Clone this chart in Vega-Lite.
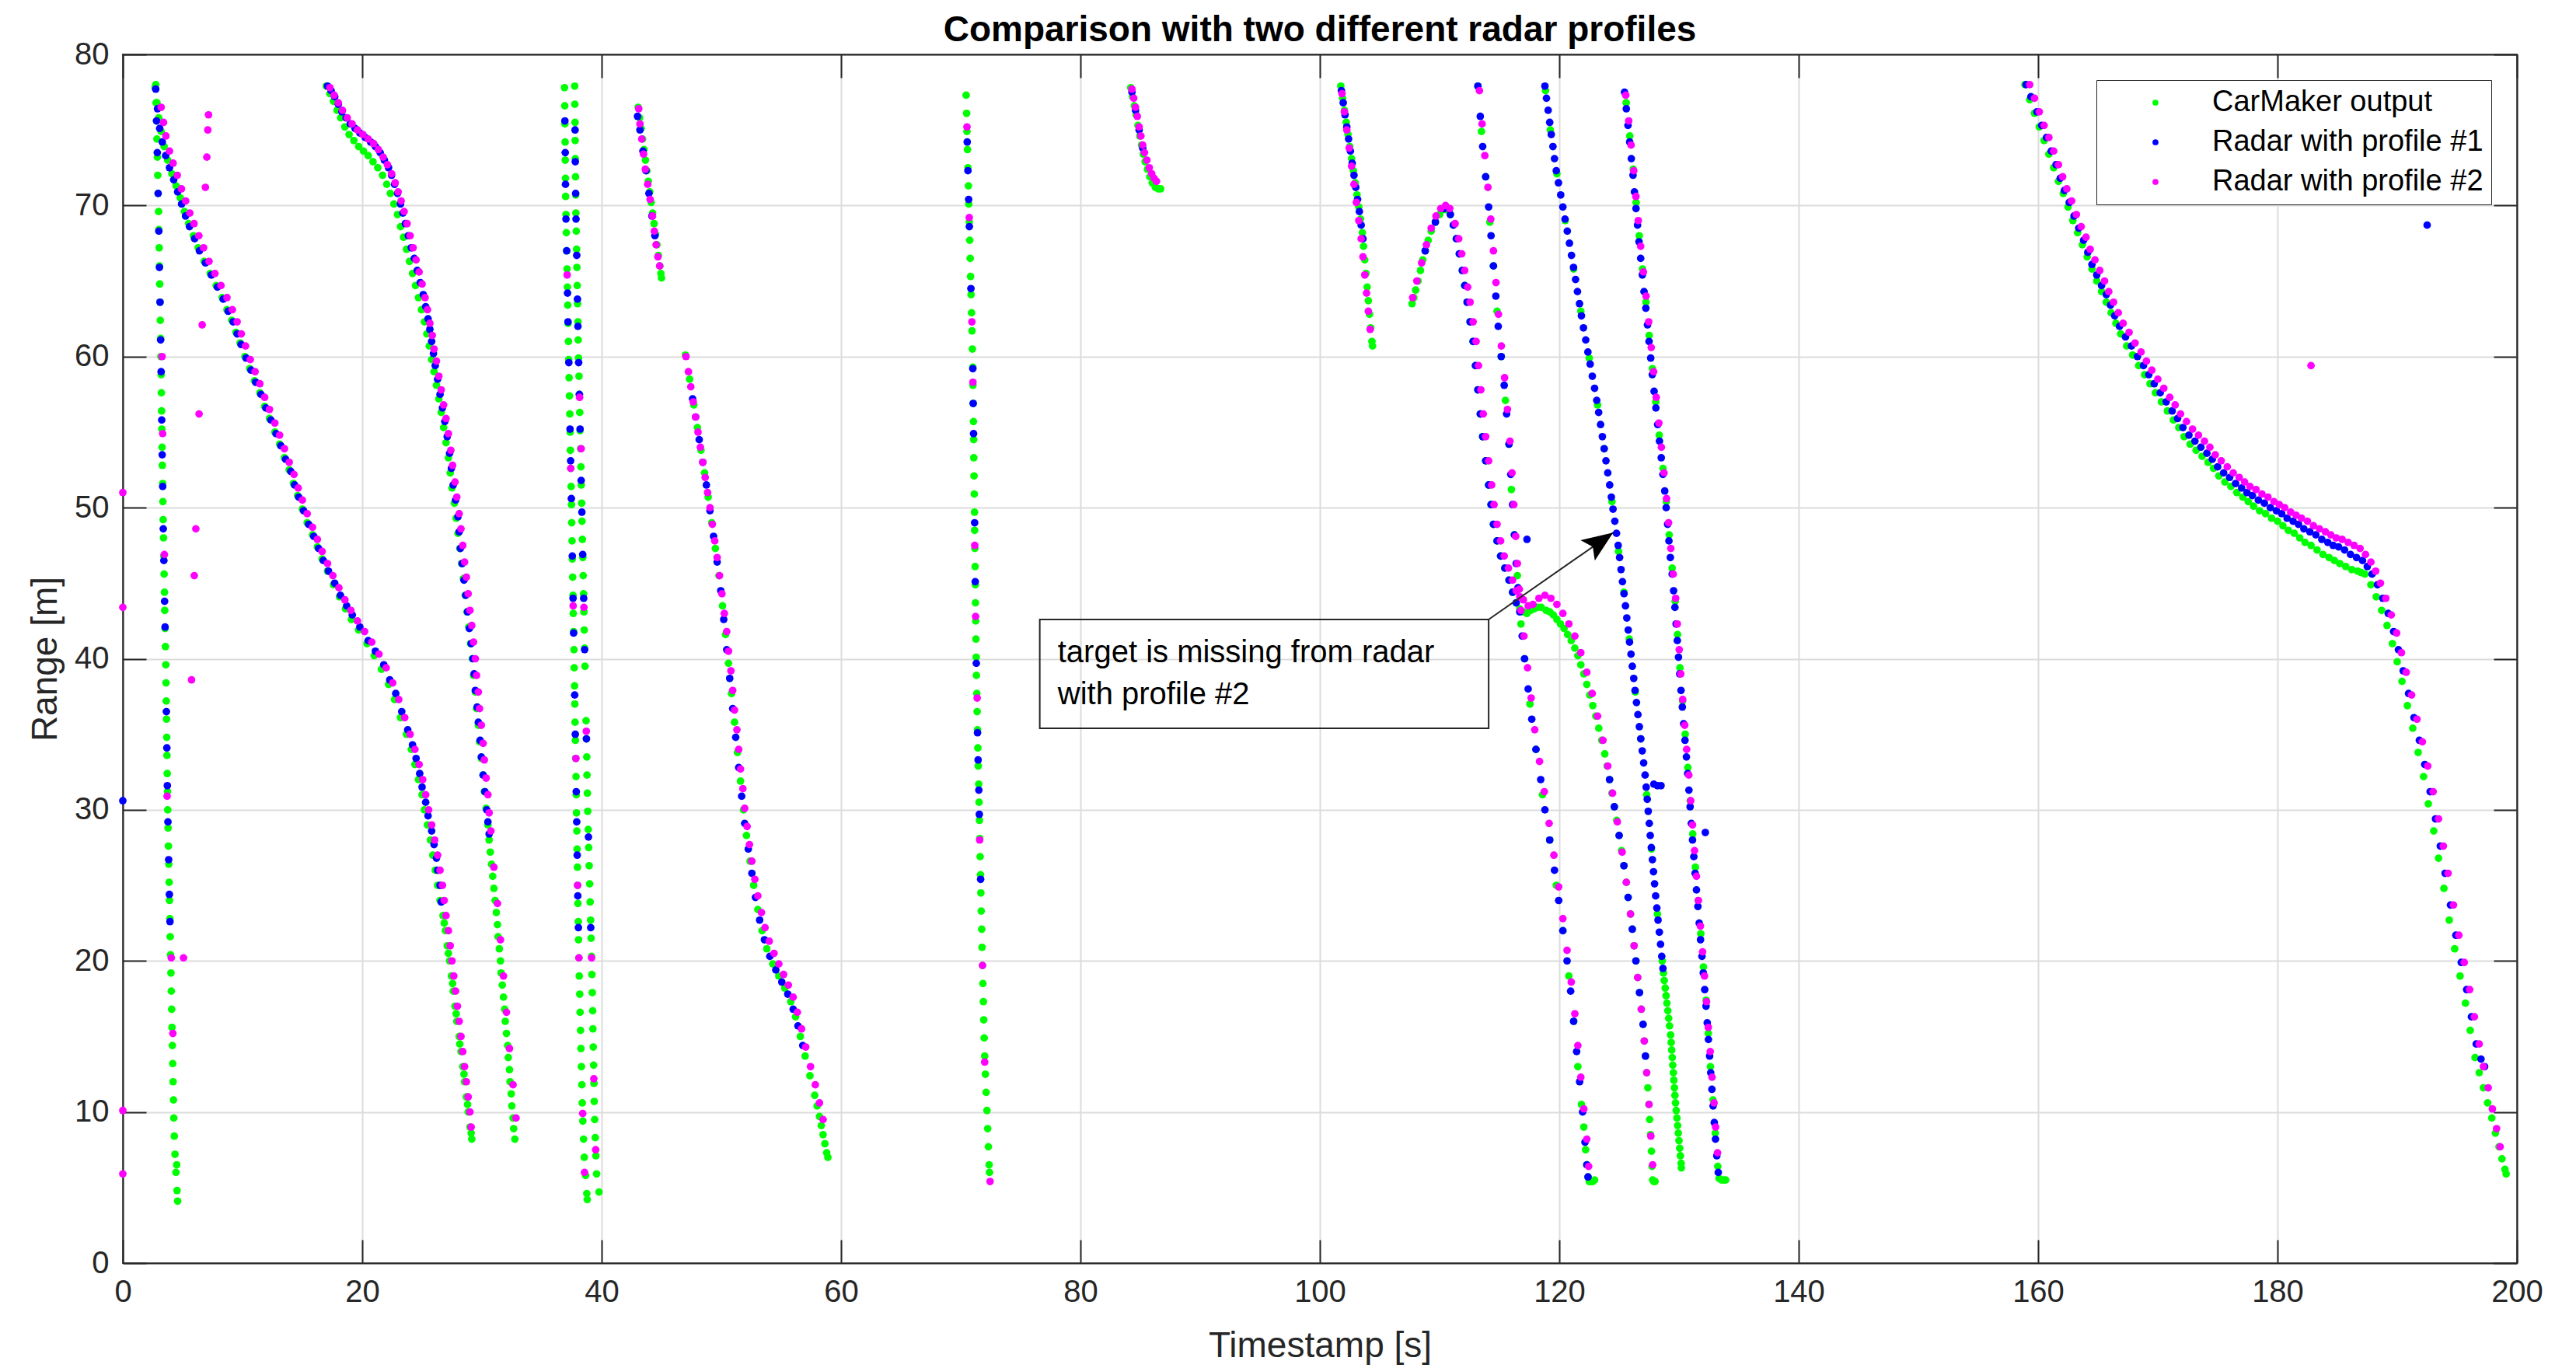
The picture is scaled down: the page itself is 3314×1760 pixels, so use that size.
{
"$schema":"https://vega.github.io/schema/vega-lite/v6.json",
"width":3080,"height":1555,
"autosize":{"type":"none"},
"padding":{"left":158,"top":70,"right":76,"bottom":135},
"background":"white",
"title":{"text":"Comparison with two different radar profiles","fontSize":46,"font":"Liberation Sans","fontWeight":"bold","color":"black","anchor":"middle","offset":-13},
"config":{
"view":{"stroke":"#262626","strokeWidth":2},
"axis":{"labelFont":"Liberation Sans","titleFont":"Liberation Sans","labelFontSize":40,"titleFontSize":46,"titleFontWeight":"normal","labelColor":"#262626","titleColor":"#262626","domainColor":"#262626","domainWidth":2,"tickColor":"#262626","tickWidth":2,"tickSize":-30,"gridColor":"#dcdcdc","gridWidth":2,"labelFlush":false,"labelOverlap":false},
"legend":{"labelFont":"Liberation Sans","labelFontSize":38,"labelColor":"black","symbolType":"circle","symbolSize":60,"symbolStrokeWidth":0,"strokeColor":"#262626","fillColor":"white","padding":10,"rowPadding":13,"symbolOffset":47,"labelOffset":54,"labelLimit":0}
},
"resolve":{"axis":{"x":"independent","y":"independent"}},
"datasets":{
"carmaker":[
{"t":2.75,"r":78},{"t":2.78,"r":76.8},{"t":2.82,"r":75.6},{"t":2.85,"r":74.4},{"t":2.89,"r":73.2},{"t":2.92,"r":72},{"t":2.95,"r":70.8},{"t":2.99,"r":69.6},{"t":3.01,"r":68.4},{"t":3.04,"r":67.2},{"t":3.06,"r":66},{"t":3.08,"r":64.8},{"t":3.11,"r":63.6},{"t":3.13,"r":62.4},{"t":3.16,"r":61.2},{"t":3.18,"r":60},{"t":3.2,"r":58.8},{"t":3.22,"r":57.6},{"t":3.24,"r":56.4},{"t":3.26,"r":55.2},{"t":3.28,"r":54},{"t":3.3,"r":52.8},{"t":3.33,"r":51.6},{"t":3.35,"r":50.4},{"t":3.37,"r":49.2},{"t":3.4,"r":48},{"t":3.42,"r":46.8},{"t":3.45,"r":45.6},{"t":3.48,"r":44.4},{"t":3.5,"r":43.2},{"t":3.53,"r":42},{"t":3.56,"r":40.8},{"t":3.59,"r":39.6},{"t":3.61,"r":38.4},{"t":3.63,"r":37.2},{"t":3.65,"r":36},{"t":3.67,"r":34.8},{"t":3.69,"r":33.6},{"t":3.71,"r":32.4},{"t":3.73,"r":31.2},{"t":3.75,"r":30},{"t":3.78,"r":28.8},{"t":3.81,"r":27.6},{"t":3.84,"r":26.4},{"t":3.87,"r":25.2},{"t":3.9,"r":24},{"t":3.93,"r":22.8},{"t":3.96,"r":21.6},{"t":3.99,"r":20.4},{"t":4.02,"r":19.2},{"t":4.05,"r":18},{"t":4.08,"r":16.8},{"t":4.11,"r":15.6},{"t":4.14,"r":14.4},{"t":4.17,"r":13.2},{"t":4.2,"r":12},{"t":4.23,"r":10.8},{"t":4.26,"r":9.6},{"t":4.3,"r":8.4},{"t":4.36,"r":7.2},{"t":4.44,"r":6},{"t":4.5,"r":6.5},{"t":4.53,"r":4.8},{"t":4.58,"r":4.1},
{"t":2.7,"r":77.8},{"t":2.85,"r":76.8},{"t":3.0,"r":75.8},{"t":3.2,"r":74.9},{"t":3.45,"r":73.9},{"t":3.75,"r":73.0},{"t":4.1,"r":72.1},{"t":4.45,"r":71.3},{"t":4.8,"r":70.5},{"t":5.15,"r":69.6},{"t":5.5,"r":68.8},{"t":5.9,"r":68.0},{"t":6.3,"r":67.2},{"t":6.8,"r":66.3},{"t":7.3,"r":65.5},{"t":7.8,"r":64.7},{"t":8.3,"r":63.9},{"t":8.7,"r":63.1},{"t":9.1,"r":62.4},{"t":9.45,"r":61.6},{"t":9.8,"r":60.9},{"t":10.2,"r":60.0},{"t":10.6,"r":59.2},{"t":11.0,"r":58.4},{"t":11.45,"r":57.6},{"t":11.85,"r":56.7},{"t":12.25,"r":55.9},{"t":12.7,"r":55.0},{"t":13.1,"r":54.2},{"t":13.5,"r":53.3},{"t":13.9,"r":52.5},{"t":14.25,"r":51.6},{"t":14.6,"r":50.8},{"t":15.0,"r":49.9},{"t":15.4,"r":49.0},{"t":15.85,"r":48.2},{"t":16.25,"r":47.4},{"t":16.65,"r":46.6},{"t":17.1,"r":45.8},{"t":17.6,"r":44.9},{"t":18.1,"r":44.1},{"t":18.6,"r":43.3},{"t":19.1,"r":42.6},{"t":19.7,"r":41.9},{"t":20.4,"r":41.0},{"t":21.0,"r":40.2},{"t":21.6,"r":39.3},{"t":22.2,"r":38.3},{"t":22.7,"r":37.3},{"t":23.2,"r":36.1},{"t":23.7,"r":35.0},{"t":24.1,"r":34.0},{"t":24.4,"r":33.0},{"t":24.7,"r":32.0},{"t":25.0,"r":31.0},{"t":25.2,"r":30.0},{"t":25.45,"r":29.0},{"t":25.7,"r":28.0},{"t":25.9,"r":27.0},{"t":26.1,"r":26.0},{"t":26.3,"r":25.0},{"t":26.5,"r":24.0},{"t":26.75,"r":23.0},{"t":26.85,"r":22.5},{"t":26.95,"r":22.0},{"t":27.1,"r":21.0},{"t":27.2,"r":20.5},{"t":27.3,"r":20.0},{"t":27.45,"r":19.0},{"t":27.55,"r":18.5},{"t":27.6,"r":18.0},{"t":27.75,"r":17.0},{"t":27.85,"r":16.5},{"t":27.9,"r":16.0},{"t":28.1,"r":15.0},{"t":28.15,"r":14.5},{"t":28.25,"r":14.0},{"t":28.4,"r":13.0},{"t":28.5,"r":12.5},{"t":28.55,"r":12.0},{"t":28.7,"r":11.0},{"t":28.8,"r":10.5},{"t":28.85,"r":10.0},{"t":29.0,"r":9.0},{"t":29.1,"r":8.6},{"t":29.15,"r":8.2},
{"t":17.0,"r":77.9},{"t":17.3,"r":77.4},{"t":17.6,"r":76.9},{"t":17.9,"r":76.3},{"t":18.2,"r":75.8},{"t":18.55,"r":75.2},{"t":18.9,"r":74.7},{"t":19.3,"r":74.3},{"t":19.7,"r":73.9},{"t":20.1,"r":73.6},{"t":20.5,"r":73.3},{"t":20.9,"r":72.9},{"t":21.3,"r":72.5},{"t":21.7,"r":72.0},{"t":22.05,"r":71.4},{"t":22.35,"r":70.8},{"t":22.65,"r":70.1},{"t":22.95,"r":69.4},{"t":23.2,"r":68.6},{"t":23.45,"r":67.9},{"t":23.7,"r":67.1},{"t":23.95,"r":66.3},{"t":24.2,"r":65.5},{"t":24.45,"r":64.7},{"t":24.7,"r":63.9},{"t":24.95,"r":63.1},{"t":25.2,"r":62.3},{"t":25.4,"r":61.5},{"t":25.6,"r":60.7},{"t":25.8,"r":59.8},{"t":26.0,"r":59.0},{"t":26.2,"r":58.1},{"t":26.4,"r":57.2},{"t":26.6,"r":56.3},{"t":26.8,"r":55.3},{"t":27.0,"r":54.3},{"t":27.2,"r":53.3},{"t":27.35,"r":52.3},{"t":27.5,"r":51.3},{"t":27.7,"r":50.3},{"t":27.85,"r":49.3},{"t":28.0,"r":48.3},{"t":28.15,"r":47.3},{"t":28.3,"r":46.3},{"t":28.45,"r":45.3},{"t":28.6,"r":44.2},{"t":28.75,"r":43.1},{"t":28.9,"r":42.1},{"t":29.05,"r":41.0},{"t":29.2,"r":40.0},{"t":29.3,"r":38.9},{"t":29.45,"r":37.8},{"t":29.55,"r":36.7},{"t":29.7,"r":35.6},{"t":29.8,"r":34.5},{"t":29.95,"r":33.4},{"t":30.1,"r":32.3},{"t":30.2,"r":31.2},{"t":30.35,"r":30.1},{"t":30.5,"r":29.0},{"t":30.6,"r":28.0},{"t":30.7,"r":27.2},{"t":30.8,"r":26.4},{"t":30.9,"r":25.6},{"t":31.0,"r":24.8},{"t":31.1,"r":24.0},{"t":31.2,"r":23.2},{"t":31.3,"r":22.4},{"t":31.35,"r":21.6},{"t":31.45,"r":20.8},{"t":31.55,"r":20.0},{"t":31.6,"r":19.2},{"t":31.7,"r":18.4},{"t":31.8,"r":17.6},{"t":31.9,"r":16.8},{"t":31.95,"r":16.0},{"t":32.05,"r":15.2},{"t":32.15,"r":14.4},{"t":32.2,"r":13.6},{"t":32.3,"r":12.8},{"t":32.35,"r":12.0},{"t":32.45,"r":11.2},{"t":32.5,"r":10.4},{"t":32.6,"r":9.6},{"t":32.65,"r":8.9},{"t":32.75,"r":8.2},
{"t":36.9,"r":77.8},{"t":36.92,"r":76.6},{"t":36.93,"r":75.4},{"t":36.95,"r":74.2},{"t":36.96,"r":73.0},{"t":36.98,"r":71.8},{"t":36.99,"r":70.6},{"t":37.02,"r":69.4},{"t":37.05,"r":68.2},{"t":37.08,"r":67.0},{"t":37.11,"r":65.8},{"t":37.14,"r":64.6},{"t":37.17,"r":63.4},{"t":37.2,"r":62.2},{"t":37.23,"r":61.0},{"t":37.25,"r":59.8},{"t":37.28,"r":58.6},{"t":37.31,"r":57.4},{"t":37.34,"r":56.2},{"t":37.37,"r":55.0},{"t":37.39,"r":53.8},{"t":37.42,"r":52.6},{"t":37.45,"r":51.4},{"t":37.48,"r":50.2},{"t":37.5,"r":49.0},{"t":37.53,"r":47.8},{"t":37.55,"r":46.6},{"t":37.58,"r":45.4},{"t":37.61,"r":44.2},{"t":37.63,"r":43.0},{"t":37.66,"r":41.8},{"t":37.69,"r":40.6},{"t":37.71,"r":39.4},{"t":37.74,"r":38.2},{"t":37.76,"r":37.0},{"t":37.78,"r":35.8},{"t":37.81,"r":34.6},{"t":37.83,"r":33.4},{"t":37.86,"r":32.2},{"t":37.88,"r":31.0},{"t":37.9,"r":29.8},{"t":37.93,"r":28.6},{"t":37.95,"r":27.4},{"t":37.98,"r":26.2},{"t":38.0,"r":25.0},{"t":38.02,"r":23.8},{"t":38.05,"r":22.6},{"t":38.07,"r":21.4},{"t":38.1,"r":20.2},{"t":38.13,"r":19.0},{"t":38.17,"r":17.8},{"t":38.2,"r":16.6},{"t":38.24,"r":15.4},{"t":38.27,"r":14.2},{"t":38.31,"r":13.0},{"t":38.35,"r":11.8},{"t":38.38,"r":10.6},{"t":38.43,"r":9.4},{"t":38.49,"r":8.2},{"t":38.55,"r":7.0},{"t":38.66,"r":5.8},{"t":38.76,"r":4.6},{"t":38.8,"r":4.2},
{"t":37.75,"r":77.9},{"t":37.76,"r":76.7},{"t":37.78,"r":75.5},{"t":37.79,"r":74.3},{"t":37.8,"r":73.1},{"t":37.82,"r":71.9},{"t":37.83,"r":70.7},{"t":37.85,"r":69.5},{"t":37.88,"r":68.3},{"t":37.91,"r":67.1},{"t":37.93,"r":65.9},{"t":37.96,"r":64.7},{"t":37.99,"r":63.5},{"t":38.02,"r":62.3},{"t":38.04,"r":61.1},{"t":38.07,"r":59.9},{"t":38.11,"r":58.7},{"t":38.14,"r":57.5},{"t":38.17,"r":56.3},{"t":38.2,"r":55.1},{"t":38.24,"r":53.9},{"t":38.27,"r":52.7},{"t":38.3,"r":51.5},{"t":38.33,"r":50.3},{"t":38.36,"r":49.1},{"t":38.39,"r":47.9},{"t":38.43,"r":46.7},{"t":38.46,"r":45.5},{"t":38.49,"r":44.3},{"t":38.52,"r":43.1},{"t":38.55,"r":41.9},{"t":38.58,"r":40.7},{"t":38.61,"r":39.5},{"t":38.7,"r":35.9},{"t":38.73,"r":34.7},{"t":38.76,"r":33.5},{"t":38.78,"r":32.3},{"t":38.81,"r":31.1},{"t":38.84,"r":29.9},{"t":38.88,"r":28.7},{"t":38.92,"r":27.5},{"t":38.96,"r":26.3},{"t":39.0,"r":25.1},{"t":39.04,"r":23.9},{"t":39.08,"r":22.7},{"t":39.12,"r":21.5},{"t":39.16,"r":20.3},{"t":39.19,"r":19.1},{"t":39.22,"r":17.9},{"t":39.25,"r":16.7},{"t":39.27,"r":15.5},{"t":39.3,"r":14.3},{"t":39.33,"r":13.1},{"t":39.36,"r":11.9},{"t":39.38,"r":10.7},{"t":39.42,"r":9.5},{"t":39.47,"r":8.3},{"t":39.52,"r":7.1},{"t":39.58,"r":5.9},{"t":39.78,"r":4.7},
{"t":43.05,"r":76.5},{"t":43.17,"r":75.8},{"t":43.3,"r":75.1},{"t":43.42,"r":74.4},{"t":43.54,"r":73.7},{"t":43.66,"r":73.0},{"t":43.78,"r":72.3},{"t":43.9,"r":71.6},{"t":44.02,"r":70.9},{"t":44.14,"r":70.2},{"t":44.26,"r":69.5},{"t":44.38,"r":68.8},{"t":44.5,"r":68.1},{"t":44.62,"r":67.4},{"t":44.74,"r":66.7},{"t":44.86,"r":66.0},{"t":44.95,"r":65.5},{"t":45.0,"r":65.2},
{"t":47.0,"r":60.1},{"t":47.35,"r":58.5},{"t":47.7,"r":56.8},{"t":48.0,"r":55.3},{"t":48.3,"r":53.8},{"t":48.6,"r":52.3},{"t":48.9,"r":50.7},{"t":49.2,"r":49.0},{"t":49.5,"r":47.3},{"t":49.8,"r":45.5},{"t":50.1,"r":43.5},{"t":50.35,"r":41.6},{"t":50.6,"r":39.7},{"t":50.85,"r":37.7},{"t":51.1,"r":35.8},{"t":51.35,"r":33.8},{"t":51.6,"r":31.9},{"t":51.85,"r":30.0},{"t":52.1,"r":28.3},{"t":52.4,"r":26.6},{"t":52.7,"r":25.0},{"t":53.05,"r":23.4},{"t":53.4,"r":22.0},{"t":53.8,"r":20.8},{"t":54.3,"r":19.8},{"t":54.8,"r":19.0},{"t":55.3,"r":18.2},{"t":55.8,"r":17.3},{"t":56.2,"r":16.3},{"t":56.6,"r":15.0},{"t":57.0,"r":13.7},{"t":57.4,"r":12.4},{"t":57.8,"r":11.1},{"t":58.0,"r":10.4},{"t":58.2,"r":9.7},{"t":58.35,"r":9.1},{"t":58.5,"r":8.5},{"t":58.65,"r":7.9},{"t":58.8,"r":7.3},{"t":58.9,"r":7.0},
{"t":70.45,"r":77.3},{"t":70.49,"r":76.1},{"t":70.52,"r":74.9},{"t":70.56,"r":73.7},{"t":70.6,"r":72.5},{"t":70.64,"r":71.3},{"t":70.67,"r":70.1},{"t":70.71,"r":68.9},{"t":70.75,"r":67.7},{"t":70.79,"r":66.5},{"t":70.82,"r":65.3},{"t":70.86,"r":64.1},{"t":70.9,"r":62.9},{"t":70.94,"r":61.7},{"t":70.97,"r":60.5},{"t":71.01,"r":59.3},{"t":71.02,"r":58.1},{"t":71.04,"r":56.9},{"t":71.06,"r":55.7},{"t":71.08,"r":54.5},{"t":71.09,"r":53.3},{"t":71.11,"r":52.1},{"t":71.13,"r":50.9},{"t":71.15,"r":49.7},{"t":71.16,"r":48.5},{"t":71.18,"r":47.3},{"t":71.2,"r":46.1},{"t":71.22,"r":44.9},{"t":71.23,"r":43.7},{"t":71.25,"r":42.5},{"t":71.27,"r":41.3},{"t":71.29,"r":40.1},{"t":71.31,"r":38.9},{"t":71.34,"r":37.7},{"t":71.37,"r":36.5},{"t":71.4,"r":35.3},{"t":71.43,"r":34.1},{"t":71.46,"r":32.9},{"t":71.5,"r":31.7},{"t":71.53,"r":30.5},{"t":71.56,"r":29.3},{"t":71.59,"r":28.1},{"t":71.62,"r":26.9},{"t":71.65,"r":25.7},{"t":71.68,"r":24.5},{"t":71.71,"r":23.3},{"t":71.75,"r":22.1},{"t":71.78,"r":20.9},{"t":71.82,"r":19.7},{"t":71.85,"r":18.5},{"t":71.89,"r":17.3},{"t":71.92,"r":16.1},{"t":71.96,"r":14.9},{"t":72.0,"r":13.7},{"t":72.06,"r":12.5},{"t":72.12,"r":11.3},{"t":72.19,"r":10.1},{"t":72.25,"r":8.9},{"t":72.31,"r":7.7},{"t":72.37,"r":6.5},{"t":72.4,"r":6.0},
{"t":84.2,"r":77.8},{"t":84.35,"r":77.2},{"t":84.5,"r":76.6},{"t":84.65,"r":76.0},{"t":84.8,"r":75.3},{"t":84.95,"r":74.6},{"t":85.1,"r":74.0},{"t":85.25,"r":73.4},{"t":85.4,"r":72.9},{"t":85.6,"r":72.4},{"t":85.8,"r":71.9},{"t":86.0,"r":71.5},{"t":86.25,"r":71.2},{"t":86.5,"r":71.1},{"t":86.7,"r":71.1},
{"t":101.75,"r":77.9},{"t":101.9,"r":77.1},{"t":102.05,"r":76.3},{"t":102.2,"r":75.5},{"t":102.35,"r":74.7},{"t":102.5,"r":73.9},{"t":102.65,"r":73.1},{"t":102.8,"r":72.3},{"t":102.95,"r":71.5},{"t":103.1,"r":70.7},{"t":103.25,"r":69.9},{"t":103.4,"r":69.1},{"t":103.55,"r":68.2},{"t":103.65,"r":67.3},{"t":103.75,"r":66.4},{"t":103.85,"r":65.5},{"t":103.95,"r":64.6},{"t":104.05,"r":63.7},{"t":104.15,"r":62.8},{"t":104.25,"r":61.9},{"t":104.35,"r":61.0},{"t":104.4,"r":60.7},
{"t":107.7,"r":63.5},{"t":107.85,"r":63.9},{"t":108.0,"r":64.4},{"t":108.2,"r":65.0},{"t":108.4,"r":65.7},{"t":108.6,"r":66.4},{"t":108.8,"r":67.0},{"t":109.05,"r":67.7},{"t":109.3,"r":68.3},{"t":109.65,"r":68.9},{"t":110.0,"r":69.4},{"t":110.2,"r":69.7},{"t":110.4,"r":69.8},{"t":110.65,"r":69.7},{"t":110.9,"r":69.4},{"t":111.15,"r":68.7},{"t":111.4,"r":67.8},{"t":111.65,"r":66.8},{"t":111.9,"r":65.7},{"t":112.1,"r":64.7},{"t":112.3,"r":63.6},{"t":112.55,"r":62.3},{"t":112.8,"r":61.0},{"t":113.0,"r":59.4},{"t":113.2,"r":57.8},{"t":113.4,"r":56.2},{"t":113.6,"r":54.7},{"t":113.85,"r":53.1},{"t":114.1,"r":51.5},{"t":114.3,"r":50.2},{"t":114.5,"r":48.9},{"t":114.8,"r":47.8},{"t":115.1,"r":46.8},{"t":115.45,"r":46.0},{"t":115.8,"r":45.2},{"t":116.1,"r":44.4},{"t":116.4,"r":43.7},{"t":116.7,"r":43.3},
{"t":117.0,"r":43.1},{"t":117.3,"r":43.0},{"t":117.6,"r":43.2},{"t":117.9,"r":43.3},{"t":118.2,"r":43.4},{"t":118.5,"r":43.4},{"t":118.9,"r":43.2},{"t":119.2,"r":43.1},{"t":119.5,"r":42.9},{"t":119.8,"r":42.6},{"t":120.1,"r":42.3},{"t":120.4,"r":42.0},{"t":120.7,"r":41.6},{"t":121.0,"r":41.2},{"t":121.3,"r":40.7},{"t":121.55,"r":40.2},{"t":121.8,"r":39.6},{"t":122.05,"r":39.0},{"t":122.3,"r":38.3},{"t":122.55,"r":37.6},{"t":122.8,"r":36.9},{"t":123.05,"r":36.2},{"t":123.3,"r":35.4},{"t":123.55,"r":34.6},{"t":123.8,"r":33.7},{"t":124.0,"r":32.9},{"t":124.2,"r":32.0},{"t":124.4,"r":31.1},{"t":124.6,"r":30.2},{"t":124.8,"r":29.3},{"t":125.0,"r":28.3},{"t":125.2,"r":27.3},{"t":125.4,"r":26.3},{"t":125.6,"r":25.2},{"t":125.75,"r":24.2},{"t":125.95,"r":23.1},{"t":126.1,"r":22.1},{"t":126.25,"r":21.0},{"t":126.4,"r":20.0},{"t":126.55,"r":18.9},{"t":126.7,"r":17.9},{"t":126.85,"r":16.8},{"t":127.0,"r":15.8},{"t":127.1,"r":14.7},{"t":127.2,"r":13.7},{"t":127.3,"r":12.6},{"t":127.4,"r":11.6},{"t":127.48,"r":10.5},{"t":127.55,"r":9.5},{"t":127.62,"r":8.5},{"t":127.7,"r":7.4},{"t":127.75,"r":6.4},{"t":127.8,"r":5.5},{"t":127.9,"r":5.4},{"t":128.0,"r":5.4},
{"t":113.2,"r":77.9},{"t":113.5,"r":74.9},{"t":113.85,"r":71.9},{"t":114.2,"r":68.9},{"t":114.5,"r":66.0},{"t":114.8,"r":63.0},{"t":115.15,"r":60.0},{"t":115.5,"r":57.1},{"t":115.8,"r":54.2},{"t":116.0,"r":51.2},{"t":116.25,"r":48.2},{"t":116.5,"r":45.5},{"t":116.8,"r":42.3},{"t":117.1,"r":40.0},{"t":117.55,"r":37.0},{"t":118.05,"r":34.0},{"t":118.6,"r":31.0},{"t":119.2,"r":28.0},{"t":119.75,"r":25.0},{"t":120.3,"r":22.0},{"t":120.8,"r":19.0},{"t":121.2,"r":16.0},{"t":121.55,"r":13.0},{"t":121.85,"r":10.5},{"t":122.05,"r":9.0},{"t":122.2,"r":7.5},{"t":122.3,"r":6.5},{"t":122.4,"r":5.7},{"t":122.5,"r":5.4},{"t":122.65,"r":5.4},{"t":122.8,"r":5.4},{"t":122.95,"r":5.5},
{"t":118.85,"r":77.6},{"t":119.25,"r":75.0},{"t":119.8,"r":72.1},{"t":120.5,"r":69.0},{"t":121.2,"r":65.8},{"t":121.8,"r":63.0},{"t":122.5,"r":59.9},{"t":123.2,"r":56.8},{"t":123.75,"r":53.9},{"t":124.4,"r":50.4},{"t":124.95,"r":47.1},{"t":125.4,"r":44.4},{"t":125.85,"r":41.3},{"t":126.35,"r":37.8},{"t":126.8,"r":34.7},{"t":127.3,"r":31.0},{"t":127.7,"r":27.4},{"t":128.2,"r":23.1},{"t":128.6,"r":20.0},{"t":128.7,"r":19.2},{"t":128.77,"r":18.7},{"t":128.85,"r":18.2},{"t":128.92,"r":17.7},{"t":128.99,"r":17.2},{"t":129.07,"r":16.7},{"t":129.14,"r":16.2},{"t":129.21,"r":15.7},{"t":129.3,"r":15.1},{"t":129.35,"r":14.6},{"t":129.39,"r":14.1},{"t":129.44,"r":13.6},{"t":129.48,"r":13.1},{"t":129.53,"r":12.6},{"t":129.57,"r":12.1},{"t":129.62,"r":11.6},{"t":129.66,"r":11.1},{"t":129.71,"r":10.6},{"t":129.77,"r":10.1},{"t":129.83,"r":9.6},{"t":129.89,"r":9.1},{"t":129.94,"r":8.6},{"t":130.0,"r":8.1},{"t":130.06,"r":7.6},{"t":130.12,"r":7.1},{"t":130.18,"r":6.6},{"t":130.2,"r":6.3},
{"t":125.59,"r":76.8},{"t":125.89,"r":74.6},{"t":126.18,"r":72.4},{"t":126.42,"r":70.2},{"t":126.68,"r":68.0},{"t":126.95,"r":65.8},{"t":127.24,"r":63.6},{"t":127.51,"r":61.4},{"t":127.78,"r":59.2},{"t":128.06,"r":57.0},{"t":128.35,"r":54.8},{"t":128.66,"r":52.6},{"t":128.94,"r":50.4},{"t":129.18,"r":48.2},{"t":129.43,"r":46.0},{"t":129.68,"r":43.8},{"t":129.88,"r":41.6},{"t":130.08,"r":39.4},{"t":130.3,"r":37.2},{"t":130.52,"r":35.0},{"t":130.74,"r":32.8},{"t":130.94,"r":30.6},{"t":131.15,"r":28.4},{"t":131.37,"r":26.2},{"t":131.6,"r":24.0},{"t":131.82,"r":21.8},{"t":132.04,"r":19.6},{"t":132.27,"r":17.4},{"t":132.45,"r":15.2},{"t":132.63,"r":13.0},{"t":132.84,"r":10.8},{"t":133.03,"r":8.6},{"t":133.24,"r":6.4},{"t":133.35,"r":5.6},{"t":133.55,"r":5.5},{"t":133.75,"r":5.5},{"t":133.9,"r":5.5},
{"t":158.9,"r":78.0},{"t":159.3,"r":77.0},{"t":159.7,"r":76.1},{"t":160.1,"r":75.2},{"t":160.5,"r":74.3},{"t":160.9,"r":73.4},{"t":161.3,"r":72.5},{"t":161.7,"r":71.6},{"t":162.1,"r":70.8},{"t":162.5,"r":69.9},{"t":162.9,"r":69.0},{"t":163.3,"r":68.2},{"t":163.7,"r":67.4},{"t":164.1,"r":66.6},{"t":164.5,"r":65.8},{"t":164.9,"r":65.0},{"t":165.3,"r":64.3},{"t":165.7,"r":63.6},{"t":166.1,"r":62.9},{"t":166.5,"r":62.2},{"t":166.9,"r":61.5},{"t":167.4,"r":60.7},{"t":167.9,"r":60.1},{"t":168.4,"r":59.4},{"t":168.9,"r":58.8},{"t":169.35,"r":58.2},{"t":169.8,"r":57.6},{"t":170.3,"r":57.0},{"t":170.8,"r":56.4},{"t":171.3,"r":55.8},{"t":171.75,"r":55.3},{"t":172.2,"r":54.7},{"t":172.7,"r":54.2},{"t":173.2,"r":53.8},{"t":173.7,"r":53.4},{"t":174.2,"r":53.0},{"t":174.65,"r":52.6},{"t":175.1,"r":52.1},{"t":175.6,"r":51.7},{"t":176.1,"r":51.4},{"t":176.6,"r":51.0},{"t":177.1,"r":50.7},{"t":177.55,"r":50.4},{"t":178.0,"r":50.1},{"t":178.5,"r":49.8},{"t":179.0,"r":49.6},{"t":179.5,"r":49.3},{"t":180.0,"r":49.1},{"t":180.45,"r":48.8},{"t":180.9,"r":48.5},{"t":181.4,"r":48.3},{"t":181.85,"r":48.0},{"t":182.3,"r":47.7},{"t":182.8,"r":47.5},{"t":183.3,"r":47.2},{"t":183.8,"r":46.9},{"t":184.3,"r":46.7},{"t":184.75,"r":46.5},{"t":185.2,"r":46.3},{"t":185.7,"r":46.1},{"t":186.2,"r":45.9},{"t":186.7,"r":45.8},{"t":187.0,"r":45.7},{"t":187.3,"r":45.6},{"t":187.8,"r":44.9},{"t":188.25,"r":44.1},{"t":188.7,"r":43.2},{"t":189.15,"r":42.2},{"t":189.6,"r":41.0},{"t":190.0,"r":39.8},{"t":190.4,"r":38.5},{"t":190.85,"r":36.9},{"t":191.3,"r":35.4},{"t":191.75,"r":33.8},{"t":192.2,"r":32.2},{"t":192.6,"r":30.4},{"t":193.05,"r":28.6},{"t":193.45,"r":26.8},{"t":193.9,"r":24.8},{"t":194.35,"r":22.7},{"t":194.8,"r":20.8},{"t":195.25,"r":19.0},{"t":195.7,"r":17.2},{"t":196.1,"r":15.4},{"t":196.5,"r":13.6},{"t":196.85,"r":12.6},{"t":197.2,"r":11.6},{"t":197.55,"r":10.6},{"t":197.9,"r":9.6},{"t":198.2,"r":8.6},{"t":198.5,"r":7.7},{"t":198.75,"r":6.9},{"t":199.0,"r":6.2},{"t":199.1,"r":5.9}
],
"profile1":[
{"t":0,"r":30.6},{"t":117.3,"r":47.9},{"t":132.2,"r":28.5},{"t":192.5,"r":68.7},
{"t":2.82,"r":75.6},{"t":2.88,"r":73.5},{"t":2.95,"r":70.8},{"t":3.01,"r":68.3},{"t":3.06,"r":65.9},{"t":3.11,"r":63.6},{"t":3.16,"r":61.1},{"t":3.2,"r":59.0},{"t":3.25,"r":55.8},{"t":3.29,"r":53.5},{"t":3.33,"r":51.4},{"t":3.38,"r":48.6},{"t":3.43,"r":46.5},{"t":3.49,"r":43.8},{"t":3.53,"r":42.1},{"t":3.64,"r":36.5},{"t":3.68,"r":34.1},{"t":3.72,"r":31.6},{"t":3.77,"r":29.2},{"t":3.83,"r":26.7},{"t":3.89,"r":24.4},{"t":3.94,"r":22.6},
{"t":2.75,"r":77.7},{"t":2.9,"r":76.4},{"t":3.08,"r":75.1},{"t":3.3,"r":74.2},{"t":3.58,"r":73.3},{"t":3.9,"r":72.5},{"t":4.25,"r":71.7},{"t":4.58,"r":70.9},{"t":4.91,"r":70.1},{"t":5.24,"r":69.3},{"t":5.57,"r":68.6},{"t":6.0,"r":67.8},{"t":6.4,"r":67.0},{"t":6.9,"r":66.2},{"t":7.4,"r":65.4},{"t":7.9,"r":64.6},{"t":8.39,"r":63.8},{"t":8.8,"r":63.0},{"t":9.22,"r":62.3},{"t":9.55,"r":61.5},{"t":9.88,"r":60.8},{"t":10.3,"r":59.9},{"t":10.71,"r":59.1},{"t":11.1,"r":58.3},{"t":11.54,"r":57.5},{"t":11.95,"r":56.6},{"t":12.37,"r":55.8},{"t":12.8,"r":54.9},{"t":13.2,"r":54.1},{"t":13.6,"r":53.2},{"t":14.03,"r":52.4},{"t":14.35,"r":51.5},{"t":14.69,"r":50.7},{"t":15.1,"r":49.8},{"t":15.52,"r":48.9},{"t":15.95,"r":48.1},{"t":16.35,"r":47.3},{"t":16.75,"r":46.5},{"t":17.18,"r":45.8},{"t":17.7,"r":45.0},{"t":18.18,"r":44.2},{"t":18.7,"r":43.5},{"t":19.17,"r":42.9},{"t":19.8,"r":42.1},{"t":20.5,"r":41.2},{"t":21.1,"r":40.5},{"t":21.8,"r":39.6},{"t":22.3,"r":38.6},{"t":22.8,"r":37.7},{"t":23.3,"r":36.5},{"t":23.8,"r":35.3},{"t":24.2,"r":34.3},{"t":24.5,"r":33.4},{"t":24.8,"r":32.4},{"t":25.0,"r":31.5},{"t":25.3,"r":30.5},{"t":25.5,"r":29.6},{"t":25.8,"r":28.6},{"t":26.0,"r":27.7},{"t":26.2,"r":26.8},{"t":26.3,"r":26.0},{"t":26.5,"r":25.0},{"t":26.6,"r":23.9},
{"t":17.1,"r":77.9},{"t":17.4,"r":77.6},{"t":17.7,"r":77.2},{"t":18.0,"r":76.7},{"t":18.3,"r":76.2},{"t":18.65,"r":75.8},{"t":19.0,"r":75.4},{"t":19.4,"r":75.1},{"t":19.8,"r":74.8},{"t":20.25,"r":74.5},{"t":20.7,"r":74.2},{"t":21.1,"r":73.9},{"t":21.5,"r":73.5},{"t":21.85,"r":73.0},{"t":22.2,"r":72.5},{"t":22.45,"r":72.0},{"t":22.7,"r":71.4},{"t":22.95,"r":70.8},{"t":23.2,"r":70.1},{"t":23.4,"r":69.5},{"t":23.6,"r":68.8},{"t":23.85,"r":68.0},{"t":24.1,"r":67.2},{"t":24.35,"r":66.5},{"t":24.6,"r":65.7},{"t":24.85,"r":64.9},{"t":25.1,"r":64.1},{"t":25.3,"r":63.3},{"t":25.5,"r":62.5},{"t":25.65,"r":61.8},{"t":25.8,"r":61.0},{"t":25.95,"r":60.2},{"t":26.1,"r":59.4},{"t":26.3,"r":58.5},{"t":26.5,"r":57.5},{"t":26.7,"r":56.6},{"t":26.9,"r":55.7},{"t":27.1,"r":54.7},{"t":27.3,"r":53.6},{"t":27.45,"r":52.6},{"t":27.6,"r":51.5},{"t":27.8,"r":50.5},{"t":28.0,"r":49.4},{"t":28.1,"r":48.4},{"t":28.2,"r":47.3},{"t":28.35,"r":46.3},{"t":28.5,"r":45.2},{"t":28.65,"r":44.2},{"t":28.8,"r":43.1},{"t":28.95,"r":42.0},{"t":29.1,"r":41.0},{"t":29.25,"r":40.0},{"t":29.35,"r":39.0},{"t":29.45,"r":37.9},{"t":29.6,"r":36.8},{"t":29.7,"r":35.8},{"t":29.85,"r":34.6},{"t":29.95,"r":33.5},{"t":30.1,"r":32.3},{"t":30.25,"r":31.2},{"t":30.4,"r":30.0},{"t":30.5,"r":29.2},{"t":30.6,"r":28.4},
{"t":36.93,"r":75.6},{"t":36.96,"r":73.5},{"t":36.98,"r":71.4},{"t":37.02,"r":69.1},{"t":37.08,"r":67.0},{"t":37.15,"r":64.2},{"t":37.19,"r":62.3},{"t":37.26,"r":59.6},{"t":37.36,"r":55.2},{"t":37.41,"r":53.1},{"t":37.47,"r":50.6},{"t":37.55,"r":46.8},{"t":37.61,"r":44.0},{"t":37.66,"r":41.7},{"t":37.75,"r":37.6},{"t":37.8,"r":35.0},{"t":37.88,"r":31.2},{"t":37.92,"r":29.2},{"t":37.96,"r":27.0},{"t":38.01,"r":24.3},{"t":38.06,"r":22.2},
{"t":37.78,"r":75.0},{"t":37.8,"r":72.9},{"t":37.83,"r":70.8},{"t":37.86,"r":69.1},{"t":37.92,"r":66.7},{"t":37.98,"r":63.8},{"t":38.02,"r":62.0},{"t":38.08,"r":59.6},{"t":38.14,"r":57.5},{"t":38.2,"r":55.2},{"t":38.29,"r":51.8},{"t":38.35,"r":49.7},{"t":38.42,"r":46.9},{"t":38.5,"r":44.0},{"t":38.58,"r":40.6},{"t":38.73,"r":34.7},{"t":38.9,"r":28.2},{"t":39.09,"r":22.2},
{"t":43.0,"r":75.9},{"t":43.2,"r":75.0},{"t":43.45,"r":73.6},{"t":43.7,"r":72.3},{"t":43.95,"r":70.8},{"t":44.2,"r":69.3},{"t":44.45,"r":68.0},
{"t":47.6,"r":57.2},{"t":47.85,"r":56.0},{"t":48.15,"r":54.5},{"t":48.45,"r":53.0},{"t":48.75,"r":51.5},{"t":49.05,"r":49.8},{"t":49.35,"r":48.1},{"t":49.65,"r":46.4},{"t":49.95,"r":44.5},{"t":50.2,"r":42.6},{"t":50.45,"r":40.6},{"t":50.7,"r":38.7},{"t":50.95,"r":36.7},{"t":51.2,"r":34.8},{"t":51.45,"r":32.8},{"t":51.7,"r":30.9},{"t":51.95,"r":29.1},{"t":52.25,"r":27.4},{"t":52.55,"r":25.8},{"t":52.85,"r":24.2},{"t":53.2,"r":22.7},{"t":53.6,"r":21.4},{"t":54.05,"r":20.3},{"t":54.55,"r":19.4},{"t":55.05,"r":18.6},{"t":55.55,"r":17.8},{"t":56.0,"r":16.8},{"t":56.4,"r":15.7},{"t":56.8,"r":14.4},
{"t":70.54,"r":74.2},{"t":70.6,"r":72.3},{"t":70.66,"r":70.4},{"t":70.72,"r":68.6},{"t":70.85,"r":64.5},{"t":71.01,"r":59.2},{"t":71.04,"r":56.9},{"t":71.07,"r":54.9},{"t":71.16,"r":49.0},{"t":71.21,"r":45.1},{"t":71.3,"r":39.7},{"t":71.4,"r":35.1},{"t":71.45,"r":33.3},{"t":71.51,"r":31.3},{"t":71.55,"r":29.7},{"t":71.66,"r":25.4},
{"t":84.3,"r":77.5},{"t":84.6,"r":76.3},{"t":84.9,"r":75.0},{"t":85.2,"r":73.8},
{"t":101.8,"r":77.6},{"t":101.95,"r":76.8},{"t":102.1,"r":76.0},{"t":102.25,"r":75.2},{"t":102.4,"r":74.4},{"t":102.55,"r":73.6},{"t":102.7,"r":72.8},{"t":102.85,"r":72.0},{"t":103.0,"r":71.2},{"t":103.15,"r":70.4},{"t":103.3,"r":69.6},{"t":103.45,"r":68.7},{"t":103.6,"r":67.8},
{"t":108.8,"r":67.0},{"t":109.65,"r":68.9},{"t":110.4,"r":69.8},{"t":110.9,"r":69.4},{"t":111.15,"r":68.7},{"t":111.4,"r":67.8},{"t":111.65,"r":66.8},{"t":111.9,"r":65.7},{"t":112.1,"r":64.7},{"t":112.3,"r":63.6},{"t":112.55,"r":62.3},{"t":112.8,"r":61.0},{"t":113.0,"r":59.4},{"t":113.2,"r":57.8},{"t":113.4,"r":56.2},{"t":113.6,"r":54.7},{"t":113.85,"r":53.1},{"t":114.1,"r":51.5},{"t":114.3,"r":50.2},{"t":114.5,"r":48.9},{"t":114.8,"r":47.8},{"t":115.1,"r":46.8},{"t":115.45,"r":46.0},{"t":115.8,"r":45.2},{"t":116.1,"r":44.4},{"t":116.4,"r":43.7},
{"t":124.2,"r":32.0},{"t":124.6,"r":30.2},{"t":125.0,"r":28.3},{"t":125.4,"r":26.3},{"t":125.75,"r":24.2},{"t":126.1,"r":22.1},{"t":126.4,"r":20.0},{"t":126.7,"r":17.9},{"t":127.0,"r":15.8},{"t":127.2,"r":13.7},
{"t":113.2,"r":77.9},{"t":113.4,"r":75.9},{"t":113.6,"r":73.9},{"t":113.85,"r":71.9},{"t":114.1,"r":69.9},{"t":114.3,"r":68.0},{"t":114.5,"r":66.0},{"t":114.7,"r":64.0},{"t":114.9,"r":62.0},{"t":115.15,"r":60.0},{"t":115.4,"r":58.1},{"t":115.6,"r":56.2},{"t":115.8,"r":54.2},{"t":115.95,"r":52.2},{"t":116.1,"r":50.2},{"t":116.25,"r":48.2},{"t":116.4,"r":46.3},{"t":116.55,"r":44.7},{"t":116.7,"r":43.1},{"t":116.9,"r":41.5},{"t":117.1,"r":40.0},{"t":117.4,"r":38.0},{"t":117.7,"r":36.0},{"t":118.05,"r":34.0},{"t":118.45,"r":32.0},{"t":118.8,"r":30.0},{"t":119.2,"r":28.0},{"t":119.6,"r":26.0},{"t":119.95,"r":24.0},{"t":120.3,"r":22.0},{"t":120.65,"r":20.0},{"t":120.95,"r":18.0},{"t":121.2,"r":16.0},{"t":121.45,"r":14.0},{"t":121.7,"r":12.0},{"t":121.95,"r":10.0},{"t":122.15,"r":8.0},{"t":122.3,"r":6.5},{"t":122.4,"r":5.7},
{"t":118.8,"r":77.9},{"t":118.93,"r":77.1},{"t":119.07,"r":76.3},{"t":119.2,"r":75.5},{"t":119.33,"r":74.7},{"t":119.47,"r":73.9},{"t":119.6,"r":73.1},{"t":119.75,"r":72.3},{"t":119.93,"r":71.5},{"t":120.12,"r":70.7},{"t":120.3,"r":69.9},{"t":120.48,"r":69.1},{"t":120.67,"r":68.3},{"t":120.85,"r":67.5},{"t":121.02,"r":66.7},{"t":121.19,"r":65.9},{"t":121.36,"r":65.1},{"t":121.52,"r":64.3},{"t":121.69,"r":63.5},{"t":121.85,"r":62.7},{"t":122.02,"r":61.9},{"t":122.21,"r":61.1},{"t":122.39,"r":60.3},{"t":122.58,"r":59.5},{"t":122.76,"r":58.7},{"t":122.95,"r":57.9},{"t":123.13,"r":57.1},{"t":123.29,"r":56.3},{"t":123.45,"r":55.5},{"t":123.6,"r":54.7},{"t":123.75,"r":53.9},{"t":123.9,"r":53.1},{"t":124.05,"r":52.3},{"t":124.21,"r":51.5},{"t":124.35,"r":50.7},{"t":124.49,"r":49.9},{"t":124.64,"r":49.1},{"t":124.78,"r":48.3},{"t":124.92,"r":47.5},{"t":125.04,"r":46.7},{"t":125.16,"r":45.9},{"t":125.28,"r":45.1},{"t":125.41,"r":44.3},{"t":125.53,"r":43.5},{"t":125.64,"r":42.7},{"t":125.76,"r":41.9},{"t":125.87,"r":41.1},{"t":125.99,"r":40.3},{"t":126.1,"r":39.5},{"t":126.22,"r":38.7},{"t":126.33,"r":37.9},{"t":126.45,"r":37.1},{"t":126.57,"r":36.3},{"t":126.69,"r":35.5},{"t":126.81,"r":34.7},{"t":126.93,"r":33.9},{"t":127.05,"r":33.1},{"t":127.17,"r":32.3},{"t":127.26,"r":31.5},{"t":127.35,"r":30.7},{"t":127.43,"r":29.9},{"t":127.52,"r":29.1},{"t":127.6,"r":28.3},{"t":127.69,"r":27.5},{"t":127.78,"r":26.7},{"t":127.87,"r":25.9},{"t":127.96,"r":25.1},{"t":128.05,"r":24.3},{"t":128.15,"r":23.5},{"t":128.25,"r":22.7},{"t":128.36,"r":21.9},{"t":128.46,"r":21.1},{"t":128.56,"r":20.3},{"t":128.66,"r":19.5},{"t":127.9,"r":31.7},{"t":128.2,"r":31.6},{"t":128.5,"r":31.6},
{"t":125.45,"r":77.5},{"t":125.6,"r":76.4},{"t":125.74,"r":75.3},{"t":125.88,"r":74.2},{"t":126.02,"r":73.1},{"t":126.16,"r":72.0},{"t":126.28,"r":70.9},{"t":126.41,"r":69.8},{"t":126.54,"r":68.7},{"t":126.66,"r":67.6},{"t":126.8,"r":66.5},{"t":126.94,"r":65.4},{"t":127.08,"r":64.3},{"t":127.23,"r":63.2},{"t":127.37,"r":62.1},{"t":127.5,"r":61.0},{"t":127.64,"r":59.9},{"t":127.77,"r":58.8},{"t":127.92,"r":57.7},{"t":128.07,"r":56.6},{"t":128.22,"r":55.5},{"t":128.37,"r":54.4},{"t":128.52,"r":53.3},{"t":128.66,"r":52.2},{"t":128.81,"r":51.1},{"t":128.93,"r":50.0},{"t":129.05,"r":48.9},{"t":129.16,"r":47.8},{"t":129.28,"r":46.7},{"t":129.43,"r":45.6},{"t":129.55,"r":44.5},{"t":129.66,"r":43.4},{"t":129.76,"r":42.3},{"t":129.86,"r":41.2},{"t":129.96,"r":40.1},{"t":130.06,"r":39.0},{"t":130.17,"r":37.9},{"t":130.28,"r":36.8},{"t":130.39,"r":35.7},{"t":130.5,"r":34.6},{"t":130.62,"r":33.5},{"t":130.73,"r":32.4},{"t":130.83,"r":31.3},{"t":130.93,"r":30.2},{"t":131.03,"r":29.1},{"t":131.13,"r":28.0},{"t":131.24,"r":26.9},{"t":131.35,"r":25.8},{"t":131.46,"r":24.7},{"t":131.58,"r":23.6},{"t":131.69,"r":22.5},{"t":131.8,"r":21.4},{"t":131.92,"r":20.3},{"t":132.03,"r":19.2},{"t":132.15,"r":18.1},{"t":132.26,"r":17.0},{"t":132.36,"r":15.9},{"t":132.46,"r":14.8},{"t":132.56,"r":13.7},{"t":132.65,"r":12.6},{"t":132.75,"r":11.5},{"t":132.85,"r":10.4},{"t":132.95,"r":9.3},{"t":133.05,"r":8.2},{"t":133.16,"r":7.1},{"t":133.28,"r":6.0},
{"t":159.0,"r":78.0},{"t":159.4,"r":77.2},{"t":159.9,"r":76.2},{"t":160.3,"r":75.3},{"t":160.7,"r":74.5},{"t":161.1,"r":73.6},{"t":161.5,"r":72.7},{"t":161.85,"r":71.8},{"t":162.2,"r":71.0},{"t":162.6,"r":70.2},{"t":163.0,"r":69.3},{"t":163.4,"r":68.5},{"t":163.8,"r":67.7},{"t":164.15,"r":66.9},{"t":164.5,"r":66.1},{"t":164.9,"r":65.4},{"t":165.3,"r":64.7},{"t":165.7,"r":64.1},{"t":166.05,"r":63.4},{"t":166.4,"r":62.7},{"t":166.8,"r":62.0},{"t":167.3,"r":61.3},{"t":167.8,"r":60.7},{"t":168.3,"r":60.0},{"t":168.8,"r":59.4},{"t":169.25,"r":58.8},{"t":169.7,"r":58.2},{"t":170.2,"r":57.6},{"t":170.7,"r":57.0},{"t":171.2,"r":56.4},{"t":171.65,"r":55.9},{"t":172.1,"r":55.3},{"t":172.6,"r":54.8},{"t":173.1,"r":54.4},{"t":173.6,"r":54.0},{"t":174.1,"r":53.6},{"t":174.55,"r":53.2},{"t":175.0,"r":52.7},{"t":175.5,"r":52.3},{"t":176.0,"r":52.0},{"t":176.5,"r":51.6},{"t":177.0,"r":51.3},{"t":177.45,"r":51.0},{"t":177.9,"r":50.8},{"t":178.4,"r":50.5},{"t":178.9,"r":50.3},{"t":179.4,"r":50.0},{"t":179.9,"r":49.8},{"t":180.35,"r":49.6},{"t":180.8,"r":49.3},{"t":181.3,"r":49.1},{"t":181.75,"r":48.9},{"t":182.2,"r":48.6},{"t":182.7,"r":48.4},{"t":183.2,"r":48.2},{"t":183.7,"r":47.9},{"t":184.2,"r":47.7},{"t":184.65,"r":47.5},{"t":185.1,"r":47.4},{"t":185.6,"r":47.2},{"t":186.1,"r":46.9},{"t":186.6,"r":46.7},{"t":187.1,"r":46.5},{"t":187.5,"r":46.1},{"t":187.9,"r":45.6},{"t":188.35,"r":44.9},{"t":188.8,"r":44.0},{"t":189.25,"r":43.0},{"t":189.7,"r":41.8},{"t":190.1,"r":40.6},{"t":190.5,"r":39.2},{"t":190.95,"r":37.7},{"t":191.4,"r":36.1},{"t":191.85,"r":34.6},{"t":192.3,"r":33.0},{"t":192.75,"r":31.2},{"t":193.2,"r":29.4},{"t":193.6,"r":27.6},{"t":194.0,"r":25.8},{"t":194.45,"r":23.7},{"t":194.9,"r":21.7},{"t":195.35,"r":19.9},{"t":195.8,"r":18.1},{"t":196.2,"r":16.3},{"t":196.6,"r":14.5},{"t":197.0,"r":13.5},{"t":197.3,"r":13.0}
],
"profile2":[
{"t":0,"r":51.0},{"t":0,"r":43.4},{"t":0,"r":10.1},{"t":0,"r":5.9},{"t":7.16,"r":76.0},{"t":7.1,"r":75.0},{"t":7.02,"r":73.2},{"t":6.9,"r":71.2},{"t":6.63,"r":62.1},{"t":6.37,"r":56.2},{"t":6.1,"r":48.6},{"t":5.97,"r":45.5},{"t":5.74,"r":38.6},{"t":5.07,"r":20.2},{"t":182.8,"r":59.4},
{"t":3.28,"r":60.0},{"t":3.33,"r":54.9},{"t":3.47,"r":46.9},{"t":3.7,"r":30.9},{"t":4.05,"r":20.2},{"t":4.18,"r":15.2},
{"t":3.2,"r":76.5},{"t":3.4,"r":75.5},{"t":3.6,"r":74.6},{"t":3.9,"r":73.6},{"t":4.2,"r":72.8},{"t":4.55,"r":72.0},{"t":4.9,"r":71.1},{"t":5.25,"r":70.3},{"t":5.6,"r":69.5},{"t":5.95,"r":68.8},{"t":6.35,"r":68.0},{"t":6.75,"r":67.2},{"t":7.2,"r":66.3},{"t":7.7,"r":65.5},{"t":8.2,"r":64.7},{"t":8.7,"r":63.9},{"t":9.15,"r":63.1},{"t":9.55,"r":62.3},{"t":9.9,"r":61.5},{"t":10.25,"r":60.7},{"t":10.65,"r":59.8},{"t":11.05,"r":59.0},{"t":11.45,"r":58.2},{"t":11.85,"r":57.3},{"t":12.25,"r":56.5},{"t":12.7,"r":55.6},{"t":13.1,"r":54.8},{"t":13.5,"r":53.9},{"t":13.9,"r":53.0},{"t":14.3,"r":52.2},{"t":14.65,"r":51.3},{"t":15.0,"r":50.5},{"t":15.4,"r":49.6},{"t":15.85,"r":48.7},{"t":16.25,"r":47.9},{"t":16.65,"r":47.1},{"t":17.1,"r":46.3},{"t":17.55,"r":45.5},{"t":18.05,"r":44.7},{"t":18.55,"r":43.9},{"t":19.05,"r":43.2},{"t":19.6,"r":42.5},{"t":20.2,"r":41.8},{"t":20.8,"r":41.1},{"t":21.4,"r":40.3},{"t":22.0,"r":39.4},{"t":22.55,"r":38.4},{"t":23.05,"r":37.3},{"t":23.55,"r":36.1},{"t":24.0,"r":35.0},{"t":24.4,"r":34.0},{"t":24.75,"r":33.0},{"t":25.05,"r":32.0},{"t":25.3,"r":31.0},{"t":25.55,"r":30.0},{"t":25.8,"r":29.0},{"t":26.05,"r":28.0},{"t":26.3,"r":27.0},{"t":26.5,"r":26.0},{"t":26.7,"r":25.0},{"t":26.85,"r":24.0},{"t":27.0,"r":23.0},{"t":27.2,"r":22.0},{"t":27.35,"r":21.0},{"t":27.5,"r":20.0},{"t":27.65,"r":19.0},{"t":27.8,"r":18.0},{"t":27.95,"r":17.0},{"t":28.1,"r":16.0},{"t":28.25,"r":15.0},{"t":28.4,"r":14.0},{"t":28.55,"r":13.0},{"t":28.7,"r":12.0},{"t":28.85,"r":11.0},{"t":29.0,"r":10.0},{"t":29.1,"r":9.0},
{"t":17.3,"r":77.8},{"t":17.65,"r":77.3},{"t":18.0,"r":76.8},{"t":18.35,"r":76.3},{"t":18.75,"r":75.8},{"t":19.15,"r":75.4},{"t":19.6,"r":75.0},{"t":20.05,"r":74.7},{"t":20.5,"r":74.4},{"t":20.95,"r":74.1},{"t":21.35,"r":73.7},{"t":21.75,"r":73.2},{"t":22.1,"r":72.7},{"t":22.45,"r":72.1},{"t":22.75,"r":71.5},{"t":23.0,"r":70.9},{"t":23.25,"r":70.3},{"t":23.5,"r":69.6},{"t":23.75,"r":68.8},{"t":24.0,"r":68.0},{"t":24.25,"r":67.2},{"t":24.5,"r":66.4},{"t":24.75,"r":65.6},{"t":25.0,"r":64.8},{"t":25.25,"r":63.9},{"t":25.45,"r":63.1},{"t":25.65,"r":62.2},{"t":25.85,"r":61.4},{"t":26.0,"r":60.5},{"t":26.2,"r":59.7},{"t":26.4,"r":58.7},{"t":26.6,"r":57.8},{"t":26.8,"r":56.8},{"t":27.0,"r":55.9},{"t":27.2,"r":54.9},{"t":27.4,"r":53.8},{"t":27.55,"r":52.8},{"t":27.75,"r":51.7},{"t":27.9,"r":50.7},{"t":28.1,"r":49.6},{"t":28.25,"r":48.6},{"t":28.4,"r":47.5},{"t":28.55,"r":46.4},{"t":28.7,"r":45.4},{"t":28.85,"r":44.3},{"t":29.0,"r":43.2},{"t":29.15,"r":42.2},{"t":29.3,"r":41.1},{"t":29.45,"r":40.0},{"t":29.55,"r":38.9},{"t":29.7,"r":37.8},{"t":29.8,"r":36.7},{"t":29.95,"r":35.6},{"t":30.1,"r":34.4},{"t":30.2,"r":33.3},{"t":30.35,"r":32.1},{"t":30.5,"r":31.0},{"t":30.6,"r":29.8},{"t":30.75,"r":28.6},{"t":31.0,"r":26.2},{"t":31.3,"r":23.8},{"t":31.55,"r":21.4},{"t":31.8,"r":19.0},{"t":32.05,"r":16.6},{"t":32.3,"r":14.2},{"t":32.6,"r":11.8},{"t":32.85,"r":9.6},
{"t":37.12,"r":65.4},{"t":37.42,"r":52.6},{"t":37.62,"r":43.5},{"t":37.85,"r":33.4},{"t":37.99,"r":25.0},{"t":38.1,"r":20.2},{"t":38.42,"r":9.9},{"t":38.57,"r":6.0},{"t":38.16,"r":57.3},{"t":38.29,"r":53.9},{"t":38.52,"r":43.4},{"t":38.72,"r":35.2},{"t":39.16,"r":20.2},{"t":39.35,"r":12.2},{"t":39.5,"r":7.5},
{"t":43.1,"r":76.4},{"t":43.2,"r":75.4},{"t":43.35,"r":74.4},{"t":43.5,"r":73.4},{"t":43.65,"r":72.4},{"t":43.85,"r":71.4},{"t":44.05,"r":70.4},{"t":44.25,"r":69.3},{"t":44.4,"r":68.3},{"t":44.55,"r":67.4},{"t":44.7,"r":66.6},{"t":44.85,"r":66.0},
{"t":47.05,"r":60.0},{"t":47.25,"r":59.0},{"t":47.45,"r":58.0},{"t":47.65,"r":57.0},{"t":47.85,"r":56.0},{"t":48.05,"r":55.0},{"t":48.25,"r":54.0},{"t":48.45,"r":53.0},{"t":48.65,"r":52.0},{"t":48.85,"r":51.0},{"t":49.05,"r":50.0},{"t":49.25,"r":48.9},{"t":49.45,"r":47.8},{"t":49.65,"r":46.7},{"t":49.85,"r":45.5},{"t":50.05,"r":44.3},{"t":50.25,"r":43.0},{"t":50.45,"r":41.8},{"t":50.6,"r":40.5},{"t":50.8,"r":39.2},{"t":50.95,"r":37.9},{"t":51.1,"r":36.6},{"t":51.3,"r":35.3},{"t":51.45,"r":34.0},{"t":51.6,"r":32.7},{"t":51.8,"r":31.4},{"t":51.95,"r":30.1},{"t":52.15,"r":28.9},{"t":52.35,"r":27.7},{"t":52.55,"r":26.6},{"t":52.8,"r":25.4},{"t":53.05,"r":24.3},{"t":53.35,"r":23.2},{"t":53.65,"r":22.2},{"t":54.0,"r":21.3},{"t":54.4,"r":20.5},{"t":54.8,"r":19.8},{"t":55.2,"r":19.1},{"t":55.6,"r":18.4},{"t":56.0,"r":17.6},{"t":56.35,"r":16.6},{"t":56.7,"r":15.5},{"t":57.05,"r":14.3},{"t":57.45,"r":13.0},{"t":57.85,"r":11.8},{"t":58.2,"r":10.6},{"t":58.5,"r":9.5},
{"t":70.52,"r":75.2},{"t":70.71,"r":69.2},{"t":70.93,"r":62.3},{"t":71.02,"r":58.3},{"t":71.17,"r":47.5},{"t":71.24,"r":42.8},{"t":71.37,"r":37.4},{"t":71.58,"r":28.0},{"t":71.82,"r":19.7},{"t":72.0,"r":13.3},{"t":72.45,"r":5.4},
{"t":84.3,"r":77.7},{"t":84.45,"r":77.1},{"t":84.6,"r":76.5},{"t":84.75,"r":75.9},{"t":84.9,"r":75.2},{"t":85.05,"r":74.6},{"t":85.2,"r":74.0},{"t":85.35,"r":73.5},{"t":85.55,"r":73.0},{"t":85.75,"r":72.5},{"t":85.95,"r":72.1},{"t":86.15,"r":71.8},{"t":86.35,"r":71.6},
{"t":101.85,"r":77.4},{"t":102.05,"r":76.2},{"t":102.25,"r":75.0},{"t":102.45,"r":73.8},{"t":102.65,"r":72.6},{"t":102.85,"r":71.4},{"t":103.05,"r":70.2},{"t":103.25,"r":69.0},{"t":103.45,"r":67.8},{"t":103.6,"r":66.6},{"t":103.75,"r":65.4},{"t":103.9,"r":64.2},{"t":104.05,"r":63.0},{"t":104.2,"r":61.8},
{"t":107.75,"r":63.9},{"t":108.1,"r":65.0},{"t":108.5,"r":66.2},{"t":108.9,"r":67.4},{"t":109.3,"r":68.5},{"t":109.7,"r":69.3},{"t":110.1,"r":69.8},{"t":110.5,"r":70.0},{"t":110.85,"r":69.8},{"t":111.3,"r":68.8},{"t":111.6,"r":67.8},{"t":111.85,"r":66.8},{"t":112.1,"r":65.7},{"t":112.35,"r":64.6},{"t":112.55,"r":63.6},{"t":112.8,"r":62.3},{"t":113.05,"r":61.0},{"t":113.25,"r":59.4},{"t":113.45,"r":57.8},{"t":113.65,"r":56.2},{"t":113.85,"r":54.7},{"t":114.1,"r":53.1},{"t":114.35,"r":51.5},{"t":114.55,"r":50.2},{"t":114.8,"r":48.9},{"t":115.1,"r":47.8},{"t":115.4,"r":46.8},{"t":115.75,"r":46.0},{"t":116.1,"r":45.2},{"t":116.4,"r":44.5},{"t":116.7,"r":44.1},
{"t":117.0,"r":43.9},{"t":117.4,"r":43.5},{"t":117.8,"r":43.6},{"t":118.3,"r":44.0},{"t":118.8,"r":44.2},{"t":119.3,"r":44.0},{"t":119.8,"r":43.6},{"t":120.3,"r":43.0},{"t":120.8,"r":42.3},{"t":121.3,"r":41.5},{"t":121.8,"r":40.4},{"t":122.3,"r":39.1},{"t":122.75,"r":37.7},{"t":123.2,"r":36.2},{"t":123.65,"r":34.6},{"t":124.05,"r":32.9},{"t":124.45,"r":31.1},{"t":124.85,"r":29.2},{"t":125.25,"r":27.2},{"t":125.6,"r":25.2},{"t":125.95,"r":23.1},{"t":126.25,"r":21.0},{"t":126.55,"r":18.9},{"t":126.85,"r":16.8},{"t":127.1,"r":14.7},{"t":127.3,"r":12.6},{"t":127.5,"r":10.5},{"t":127.65,"r":8.4},{"t":127.8,"r":6.5},
{"t":113.33,"r":77.6},{"t":113.55,"r":75.4},{"t":113.78,"r":73.3},{"t":114.04,"r":71.2},{"t":114.28,"r":69.1},{"t":114.5,"r":67.0},{"t":114.71,"r":64.9},{"t":114.92,"r":62.8},{"t":115.16,"r":60.7},{"t":115.43,"r":58.6},{"t":115.67,"r":56.5},{"t":115.88,"r":54.4},{"t":116.05,"r":52.3},{"t":116.2,"r":50.2},{"t":116.36,"r":48.1},{"t":116.5,"r":46.3},{"t":116.66,"r":44.6},{"t":116.8,"r":43.2},{"t":117.05,"r":41.5},{"t":117.35,"r":39.4},{"t":117.65,"r":37.4},{"t":117.95,"r":35.3},{"t":118.35,"r":33.2},{"t":118.75,"r":31.2},{"t":119.15,"r":29.1},{"t":119.55,"r":27.0},{"t":119.95,"r":24.9},{"t":120.3,"r":22.8},{"t":120.65,"r":20.7},{"t":121.0,"r":18.6},{"t":121.3,"r":16.5},{"t":121.55,"r":14.4},{"t":121.8,"r":12.3},{"t":122.05,"r":10.2},{"t":122.3,"r":8.2},{"t":122.45,"r":6.4},
{"t":125.55,"r":77.3},{"t":125.8,"r":75.6},{"t":126.0,"r":74.0},{"t":126.22,"r":72.3},{"t":126.4,"r":70.6},{"t":126.6,"r":69.0},{"t":126.8,"r":67.3},{"t":127.03,"r":65.6},{"t":127.25,"r":64.0},{"t":127.47,"r":62.3},{"t":127.68,"r":60.6},{"t":127.88,"r":59.0},{"t":128.1,"r":57.3},{"t":128.32,"r":55.6},{"t":128.53,"r":54.0},{"t":128.75,"r":52.3},{"t":128.96,"r":50.6},{"t":129.13,"r":49.0},{"t":129.32,"r":47.3},{"t":129.52,"r":45.6},{"t":129.72,"r":44.0},{"t":129.86,"r":42.3},{"t":130.02,"r":40.6},{"t":130.15,"r":39.0},{"t":130.31,"r":37.3},{"t":130.48,"r":35.6},{"t":130.64,"r":34.0},{"t":130.82,"r":32.3},{"t":130.98,"r":30.6},{"t":131.13,"r":29.0},{"t":131.3,"r":27.3},{"t":131.46,"r":25.6},{"t":131.62,"r":24.0},{"t":131.79,"r":22.3},{"t":131.97,"r":20.6},{"t":132.13,"r":19.0},{"t":132.3,"r":17.3},{"t":132.45,"r":15.6},{"t":132.61,"r":14.0},{"t":132.76,"r":12.3},{"t":132.93,"r":10.6},{"t":133.06,"r":9.0},{"t":133.22,"r":7.3},
{"t":159.3,"r":78.0},{"t":159.7,"r":77.1},{"t":160.1,"r":76.2},{"t":160.5,"r":75.3},{"t":160.9,"r":74.5},{"t":161.3,"r":73.6},{"t":161.7,"r":72.7},{"t":162.05,"r":71.9},{"t":162.4,"r":71.1},{"t":162.8,"r":70.3},{"t":163.2,"r":69.4},{"t":163.6,"r":68.6},{"t":164.0,"r":67.9},{"t":164.35,"r":67.1},{"t":164.75,"r":66.4},{"t":165.15,"r":65.7},{"t":165.55,"r":65.0},{"t":165.9,"r":64.3},{"t":166.3,"r":63.6},{"t":166.7,"r":62.9},{"t":167.1,"r":62.2},{"t":167.6,"r":61.6},{"t":168.1,"r":60.9},{"t":168.6,"r":60.3},{"t":169.05,"r":59.7},{"t":169.5,"r":59.1},{"t":170.0,"r":58.5},{"t":170.5,"r":57.9},{"t":171.0,"r":57.3},{"t":171.45,"r":56.8},{"t":171.9,"r":56.2},{"t":172.4,"r":55.7},{"t":172.9,"r":55.2},{"t":173.4,"r":54.8},{"t":173.9,"r":54.4},{"t":174.35,"r":54.0},{"t":174.8,"r":53.5},{"t":175.3,"r":53.1},{"t":175.8,"r":52.7},{"t":176.3,"r":52.3},{"t":176.8,"r":52.0},{"t":177.25,"r":51.7},{"t":177.7,"r":51.4},{"t":178.2,"r":51.2},{"t":178.7,"r":50.9},{"t":179.2,"r":50.7},{"t":179.7,"r":50.4},{"t":180.15,"r":50.2},{"t":180.6,"r":50.0},{"t":181.1,"r":49.7},{"t":181.55,"r":49.5},{"t":182.0,"r":49.3},{"t":182.5,"r":49.1},{"t":183.0,"r":48.8},{"t":183.5,"r":48.6},{"t":184.0,"r":48.4},{"t":184.45,"r":48.2},{"t":184.9,"r":48.0},{"t":185.4,"r":47.9},{"t":185.9,"r":47.7},{"t":186.4,"r":47.5},{"t":186.9,"r":47.3},{"t":187.35,"r":46.9},{"t":187.8,"r":46.4},{"t":188.2,"r":45.8},{"t":188.6,"r":45.0},{"t":189.05,"r":44.0},{"t":189.5,"r":42.9},{"t":189.95,"r":41.7},{"t":190.35,"r":40.4},{"t":190.75,"r":39.1},{"t":191.2,"r":37.6},{"t":191.65,"r":36.0},{"t":192.1,"r":34.5},{"t":192.55,"r":32.9},{"t":193.0,"r":31.2},{"t":193.45,"r":29.4},{"t":193.85,"r":27.6},{"t":194.25,"r":25.8},{"t":194.7,"r":23.7},{"t":195.15,"r":21.7},{"t":195.6,"r":19.9},{"t":196.05,"r":18.1},{"t":196.45,"r":16.3},{"t":196.85,"r":14.5},{"t":197.2,"r":13.0},{"t":197.6,"r":11.6},{"t":197.95,"r":10.2},{"t":198.3,"r":8.9},{"t":198.6,"r":7.7}
]
},
"layer":[
{"data":{"name":"carmaker"},
"mark":{"type":"circle","size":95,"opacity":1},
"encoding":{
"x":{"field":"t","type":"quantitative","scale":{"domain":[0,200],"nice":false},"axis":{"orient":"bottom","values":[0,20,40,60,80,100,120,140,160,180,200],"title":"Timestamp [s]","grid":true,"labelPadding":47,"titlePadding":27}},
"y":{"field":"r","type":"quantitative","scale":{"domain":[0,80],"nice":false},"axis":{"orient":"left","values":[0,10,20,30,40,50,60,70,80],"title":"Range [m]","grid":true,"labelPadding":48,"titlePadding":13}},
"color":{"datum":"CarMaker output","type":"nominal","scale":{"domain":["CarMaker output","Radar with profile #1","Radar with profile #2"],"range":["#00ff00","#0000ff","#ff00ff"]},"legend":{"title":null,"orient":"none","legendX":2539,"legendY":33}}}},
{"data":{"name":"profile1"},
"mark":{"type":"circle","size":95,"opacity":1},
"encoding":{
"x":{"field":"t","type":"quantitative","scale":{"domain":[0,200],"nice":false},"axis":null},
"y":{"field":"r","type":"quantitative","scale":{"domain":[0,80],"nice":false},"axis":null},
"color":{"datum":"Radar with profile #1","type":"nominal"}}},
{"data":{"name":"profile2"},
"mark":{"type":"circle","size":95,"opacity":1},
"encoding":{
"x":{"field":"t","type":"quantitative","scale":{"domain":[0,200],"nice":false},"axis":null},
"y":{"field":"r","type":"quantitative","scale":{"domain":[0,80],"nice":false},"axis":null},
"color":{"datum":"Radar with profile #2","type":"nominal"}}},
{"data":{"values":[{"t0":76.6,"t1":114.1,"r0":35.4,"r1":42.6}]},
"mark":{"type":"rect","fill":"transparent","stroke":"#262626","strokeWidth":2},
"encoding":{
"x":{"field":"t0","type":"quantitative","scale":{"domain":[0,200],"nice":false},"axis":{"orient":"top","values":[0,20,40,60,80,100,120,140,160,180,200],"labels":false,"title":null,"grid":false}},
"x2":{"field":"t1"},
"y":{"field":"r0","type":"quantitative","scale":{"domain":[0,80],"nice":false},"axis":{"orient":"right","values":[0,10,20,30,40,50,60,70,80],"labels":false,"title":null,"grid":false}},
"y2":{"field":"r1"}}},
{"data":{"values":[{"t":78.1,"r":39.77,"note":"target is missing from radar\nwith profile #2"}]},
"mark":{"type":"text","align":"left","baseline":"alphabetic","fontSize":40,"font":"Liberation Sans","lineBreak":"\n","lineHeight":54,"color":"black"},
"encoding":{
"x":{"field":"t","type":"quantitative","scale":{"domain":[0,200],"nice":false},"axis":null},
"y":{"field":"r","type":"quantitative","scale":{"domain":[0,80],"nice":false},"axis":null},
"text":{"field":"note"}}},
{"data":{"values":[{"t":114.1,"r":42.6,"t2":124.5,"r2":48.35}]},
"mark":{"type":"rule","color":"#262626","strokeWidth":2},
"encoding":{
"x":{"field":"t","type":"quantitative","scale":{"domain":[0,200],"nice":false},"axis":null},
"y":{"field":"r","type":"quantitative","scale":{"domain":[0,80],"nice":false},"axis":null},
"x2":{"field":"t2"},"y2":{"field":"r2"}}},
{"data":{"values":[{"t":124.5,"r":48.35}]},
"mark":{"type":"point","shape":"M0,0L0.4,1L0,0.8L-0.4,1Z","filled":true,"color":"black","size":6400,"angle":55,"opacity":1},
"encoding":{
"x":{"field":"t","type":"quantitative","scale":{"domain":[0,200],"nice":false},"axis":null},
"y":{"field":"r","type":"quantitative","scale":{"domain":[0,80],"nice":false},"axis":null}}}
]
}
